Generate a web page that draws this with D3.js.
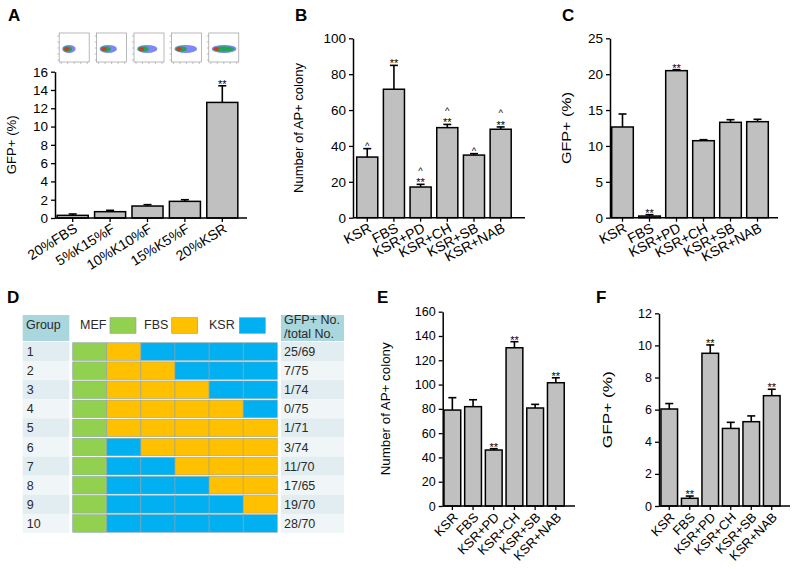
<!DOCTYPE html>
<html>
<head>
<meta charset="utf-8">
<script src="https://cdn.jsdelivr.net/npm/d3@7/dist/d3.min.js"></script>
<style>
  html, body { margin: 0; padding: 0; background: #fff; }
  svg { display: block; font-family: "Liberation Sans", Arial, sans-serif; }
</style>
</head>
<body>
<script>
// ---------- data ----------
const catsA = ['20%FBS', '5%K15%F', '10%K10%F', '15%K5%F', '20%KSR'];
const valsA = [0.29, 0.69, 1.31, 1.82, 12.64];
const errsA = [0.15, 0.15, 0.15, 0.18, 1.82];
const starsA = ['', '', '', '', '**'];
const ticksA = [0, 2, 4, 6, 8, 10, 12, 14, 16];
const flowSpread = [0.45, 0.58, 0.68, 0.76, 0.82];   // width of the dot cloud in each FACS plot
const flowGreen = [0.30, 0.34, 0.36, 0.38, 0.72];

const catsTreat = ['KSR', 'FBS', 'KSR+PD', 'KSR+CH', 'KSR+SB', 'KSR+NAB'];

const valsB = [33.8, 71.6, 17.1, 50.2, 34.9, 49.3];
const errsB = [4.7, 13.3, 1.5, 1.8, 0.8, 1.3];
const starsB = ['', '**', '**', '**', '', '**'];
const hatsB = ['^', '', '^', '^', '^', '^'];
const ticksB = [0, 20, 40, 60, 80, 100];

const valsC = [12.64, 0.23, 20.49, 10.73, 13.29, 13.38];
const errsC = [1.81, 0.19, 0.14, 0.14, 0.37, 0.33];
const starsC = ['', '**', '**', '', '', ''];
const ticksC = [0, 5, 10, 15, 20, 25];

const valsE = [79.0, 81.8, 46.1, 130.3, 80.7, 101.5];
const errsE = [10.2, 5.7, 1.1, 5.0, 3.0, 4.1];
const starsE = ['', '', '**', '**', '', '**'];
const ticksE = [0, 20, 40, 60, 80, 100, 120, 140, 160];

const valsF = [6.04, 0.48, 9.51, 4.83, 5.25, 6.87];
const errsF = [0.34, 0.14, 0.52, 0.38, 0.36, 0.40];
const starsF = ['', '**', '**', '', '', '**'];
const ticksF = [0, 2, 4, 6, 8, 10, 12];

// panel D table
const tableGroups = ['1', '2', '3', '4', '5', '6', '7', '8', '9', '10'];
const tableMedia = [
  'MFKKKK', 'MFFKKK', 'MFFFKK', 'MFFFFK', 'MFFFFF',
  'MKFFFF', 'MKKFFF', 'MKKKFF', 'MKKKKF', 'MKKKKK'
];
const tableRatio = ['25/69', '7/75', '1/74', '0/75', '1/71', '3/74', '11/70', '17/65', '19/70', '28/70'];
const mediaKeys = ['M', 'F', 'K'];
const mediaNames = ['MEF', 'FBS', 'KSR'];
const mediaColors = ['#92d050', '#ffc000', '#00b0f0'];

// ---------- svg ----------
const W = 796, H = 569;
const svg = d3.select('body').append('svg').attr('width', W).attr('height', H);
svg.append('rect').attr('width', W).attr('height', H).attr('fill', '#fff');

function letter(t, x, y) {
  svg.append('text').attr('x', x).attr('y', y).text(t)
    .attr('font-size', 17).attr('font-weight', 'bold').attr('fill', '#000');
}

function barPanel(p) {
  const g = svg.append('g');
  const x = d3.scaleBand().domain(p.cats).range([p.x0, p.x1])
    .paddingInner(p.pad).paddingOuter(p.pad / 2);
  const y = d3.scaleLinear().domain([0, p.ymax]).range([p.yb, p.yt]);
  const rows = p.cats.map((c, i) => ({ c, v: p.vals[i], e: p.errs[i], s: p.stars[i], h: p.hats ? p.hats[i] : '' }));

  // bars
  g.selectAll('rect.bar').data(rows).enter().append('rect')
    .attr('x', d => x(d.c)).attr('y', d => y(d.v))
    .attr('width', x.bandwidth()).attr('height', d => y(0) - y(d.v))
    .attr('fill', '#c0c0c0').attr('stroke', '#000').attr('stroke-width', 1.5);

  // error bars (upper only)
  const cx = d => x(d.c) + x.bandwidth() / 2;
  g.selectAll('line.err').data(rows).enter().append('line')
    .attr('x1', cx).attr('x2', cx)
    .attr('y1', d => y(d.v)).attr('y2', d => y(d.v + d.e))
    .attr('stroke', '#000').attr('stroke-width', 1.6);
  g.selectAll('line.cap').data(rows).enter().append('line')
    .attr('x1', d => cx(d) - 4).attr('x2', d => cx(d) + 4)
    .attr('y1', d => y(d.v + d.e)).attr('y2', d => y(d.v + d.e))
    .attr('stroke', '#000').attr('stroke-width', 1.6);

  // significance marks
  g.selectAll('text.star').data(rows.filter(d => d.s)).enter().append('text')
    .attr('x', cx).attr('y', d => y(d.v + d.e) + 2)
    .attr('text-anchor', 'middle').attr('font-size', 11).attr('fill', '#000')
    .text(d => d.s);
  g.selectAll('text.hat').data(rows.filter(d => d.h)).enter().append('text')
    .attr('x', cx).attr('y', d => y(d.v + d.e) + (d.s ? -10.5 : 0.5))
    .attr('text-anchor', 'middle').attr('font-size', 9.5).attr('fill', '#000')
    .text(d => d.h);

  // y axis
  const ya = g.append('g').attr('transform', `translate(${p.ax},0)`)
    .call(d3.axisLeft(y).tickValues(p.ticks).tickSize(4).tickPadding(3).tickSizeOuter(0));
  ya.select('.domain').attr('stroke', '#000').attr('stroke-width', 1.5);
  ya.selectAll('.tick line').attr('stroke', '#000').attr('stroke-width', 1.3);
  ya.selectAll('.tick text').attr('font-size', p.tickFs).attr('fill', '#000')
    .attr('font-family', '"Liberation Sans", Arial, sans-serif');

  // x axis
  g.append('line').attr('x1', p.ax).attr('x2', p.axEnd).attr('y1', p.yb).attr('y2', p.yb)
    .attr('stroke', '#000').attr('stroke-width', 1.5);
  const xa = g.append('g').attr('transform', `translate(0,${p.yb})`)
    .call(d3.axisBottom(x).tickSize(4).tickSizeOuter(0));
  xa.select('.domain').remove();
  xa.selectAll('.tick line').attr('stroke', '#000').attr('stroke-width', 1.3);
  xa.selectAll('.tick text')
    .attr('x', 0).attr('y', 0).attr('dy', '0.35em')
    .attr('transform', `translate(${p.lblDx},${p.lblDy}) rotate(${p.rot})`)
    .style('text-anchor', 'end')
    .attr('font-size', p.lblFs).attr('fill', '#000')
    .attr('font-family', '"Liberation Sans", Arial, sans-serif');

  // axis title
  g.append('text')
    .attr('transform', `translate(${p.titleX},${(p.yb + p.yt) / 2}) rotate(-90)`)
    .attr('text-anchor', 'middle').attr('dy', '0.35em')
    .attr('font-size', p.titleFs).attr('fill', '#000')
    .attr('textLength', p.titleLen).attr('lengthAdjust', 'spacingAndGlyphs')
    .text(p.title);

  return x;
}

// ---------- panel A ----------
letter('A', 8, 21);
const xA = barPanel({
  cats: catsA, vals: valsA, errs: errsA, stars: starsA, ticks: ticksA,
  x0: 54, x1: 241, pad: 0.17, ymax: 16, yb: 218, yt: 71.7, ax: 55, axEnd: 247,
  tickFs: 13.5, lblFs: 14, rot: -32, lblDx: 3, lblDy: 9,
  title: 'GFP+ (%)', titleX: 11, titleFs: 13, titleLen: 59
});

// FACS thumbnails above panel A
const flow = svg.append('g');
catsA.forEach((c, i) => {
  const bx = xA(c) + 2, by = 33, bw = 30, bh = 29;
  const fg = flow.append('g');
  fg.append('rect').attr('x', bx).attr('y', by).attr('width', bw).attr('height', bh)
    .attr('fill', '#fff').attr('stroke', '#9a9a9a').attr('stroke-width', 0.7);
  d3.range(5).forEach(k => {
    fg.append('line').attr('x1', bx + 2 + k * 6.5).attr('x2', bx + 2 + k * 6.5)
      .attr('y1', by + bh).attr('y2', by + bh + 2).attr('stroke', '#888').attr('stroke-width', 0.5);
    fg.append('line').attr('x1', bx - 2).attr('x2', bx)
      .attr('y1', by + 3 + k * 6).attr('y2', by + 3 + k * 6).attr('stroke', '#888').attr('stroke-width', 0.5);
  });
  const cy = by + bh * 0.55;
  const blueW = flowSpread[i] * bw;
  fg.append('ellipse').attr('cx', bx + 3 + blueW / 2).attr('cy', cy)
    .attr('rx', blueW / 2).attr('ry', 4).attr('fill', '#2638f0').attr('opacity', 0.6);
  const gw = flowGreen[i] * bw;
  fg.append('ellipse').attr('cx', bx + 4 + gw / 2).attr('cy', cy)
    .attr('rx', gw / 2).attr('ry', 2.8).attr('fill', '#17a845').attr('opacity', 0.9);
  fg.append('ellipse').attr('cx', bx + 7.5).attr('cy', cy).attr('rx', 2.6).attr('ry', 1.8)
    .attr('fill', '#e0321e');
});

// ---------- panel B ----------
letter('B', 295, 21);
barPanel({
  cats: catsTreat, vals: valsB, errs: errsB, stars: starsB, hats: hatsB, ticks: ticksB,
  x0: 353.9, x1: 514, pad: 0.21, ymax: 100, yb: 217.7, yt: 38.3, ax: 353, axEnd: 525,
  tickFs: 13.5, lblFs: 14, rot: -28, lblDx: 3, lblDy: 9,
  title: 'Number of AP+ colony', titleX: 299, titleFs: 12.5, titleLen: 130
});

// ---------- panel C ----------
letter('C', 562, 21);
barPanel({
  cats: catsTreat, vals: valsC, errs: errsC, stars: starsC, ticks: ticksC,
  x0: 609, x1: 771, pad: 0.2, ymax: 25, yb: 217.7, yt: 38.3, ax: 610, axEnd: 778,
  tickFs: 13.5, lblFs: 14, rot: -28, lblDx: 3, lblDy: 9,
  title: 'GFP+ (%)', titleX: 566, titleFs: 13.5, titleLen: 72
});

// ---------- panel E ----------
letter('E', 377, 303);
barPanel({
  cats: catsTreat, vals: valsE, errs: errsE, stars: starsE, ticks: ticksE,
  x0: 442, x1: 566.2, pad: 0.19, ymax: 160, yb: 506, yt: 311.7, ax: 442.7, axEnd: 575,
  tickFs: 12.5, lblFs: 13, rot: -45, lblDx: 3, lblDy: 9,
  title: 'Number of AP+ colony', titleX: 386, titleFs: 12.5, titleLen: 133
});

// ---------- panel F ----------
letter('F', 596, 303);
barPanel({
  cats: catsTreat, vals: valsF, errs: errsF, stars: starsF, ticks: ticksF,
  x0: 659, x1: 782, pad: 0.19, ymax: 12, yb: 506, yt: 313.3, ax: 659, axEnd: 790,
  tickFs: 12.5, lblFs: 13, rot: -45, lblDx: 3, lblDy: 9,
  title: 'GFP+ (%)', titleX: 607, titleFs: 13.5, titleLen: 77
});

// ---------- panel D (table) ----------
letter('D', 7, 303);
const tg = svg.append('g').attr('font-size', 12.5).attr('fill', '#2a2a2a');
const headTeal = '#a9d7dd';
const rowFill = ['#e2edf1', '#f0f6f8'];
const gx0 = 22.7, gx1 = 69.3, sx0 = 72.7, sx1 = 277.3, rx0 = 281, rx1 = 344;

// header
tg.append('rect').attr('x', gx0).attr('y', 315).attr('width', gx1 - gx0).attr('height', 26).attr('fill', headTeal);
tg.append('rect').attr('x', rx0).attr('y', 315).attr('width', rx1 - rx0).attr('height', 26).attr('fill', headTeal);
tg.append('text').attr('x', 26).attr('y', 329).text('Group');
tg.append('text').attr('x', 284).attr('y', 324).text('GFP+ No.');
tg.append('text').attr('x', 284).attr('y', 338).text('/total No.');

const legendX = [80, 144, 209];
const swatchX = [110, 171.7, 239.3];
mediaNames.forEach((n, i) => {
  tg.append('text').attr('x', legendX[i]).attr('y', 329).text(n);
  tg.append('rect').attr('x', swatchX[i]).attr('y', 317.7).attr('width', 26).attr('height', 15.6)
    .attr('fill', mediaColors[i]).attr('stroke', '#8c9aa0').attr('stroke-width', 0.6);
});

// rows
const ry = d3.scaleBand().domain(tableGroups).range([342, 533]).paddingInner(0.08).paddingOuter(0.04);
const sx = d3.scaleBand().domain(d3.range(6)).range([sx0, sx1]);
const mColor = d3.scaleOrdinal().domain(mediaKeys).range(mediaColors);

tableGroups.forEach((gName, i) => {
  const y0 = ry(gName), h = ry.bandwidth();
  const fill = rowFill[i % 2];
  tg.append('rect').attr('x', gx0).attr('y', y0 - 0.8).attr('width', gx1 - gx0).attr('height', h + 1.6).attr('fill', fill);
  tg.append('rect').attr('x', rx0).attr('y', y0 - 0.8).attr('width', rx1 - rx0).attr('height', h + 1.6).attr('fill', fill);
  tg.append('text').attr('x', 26.7).attr('y', y0 + h / 2).attr('dy', '0.36em').text(gName);
  tg.append('text').attr('x', 284).attr('y', y0 + h / 2).attr('dy', '0.36em').text(tableRatio[i]);
  tableMedia[i].split('').forEach((m, k) => {
    tg.append('rect').attr('x', sx(k)).attr('y', y0).attr('width', sx.bandwidth()).attr('height', h)
      .attr('fill', mColor(m)).attr('stroke', '#8fa3ab').attr('stroke-width', 0.6);
  });
});
</script>
</body>
</html>
